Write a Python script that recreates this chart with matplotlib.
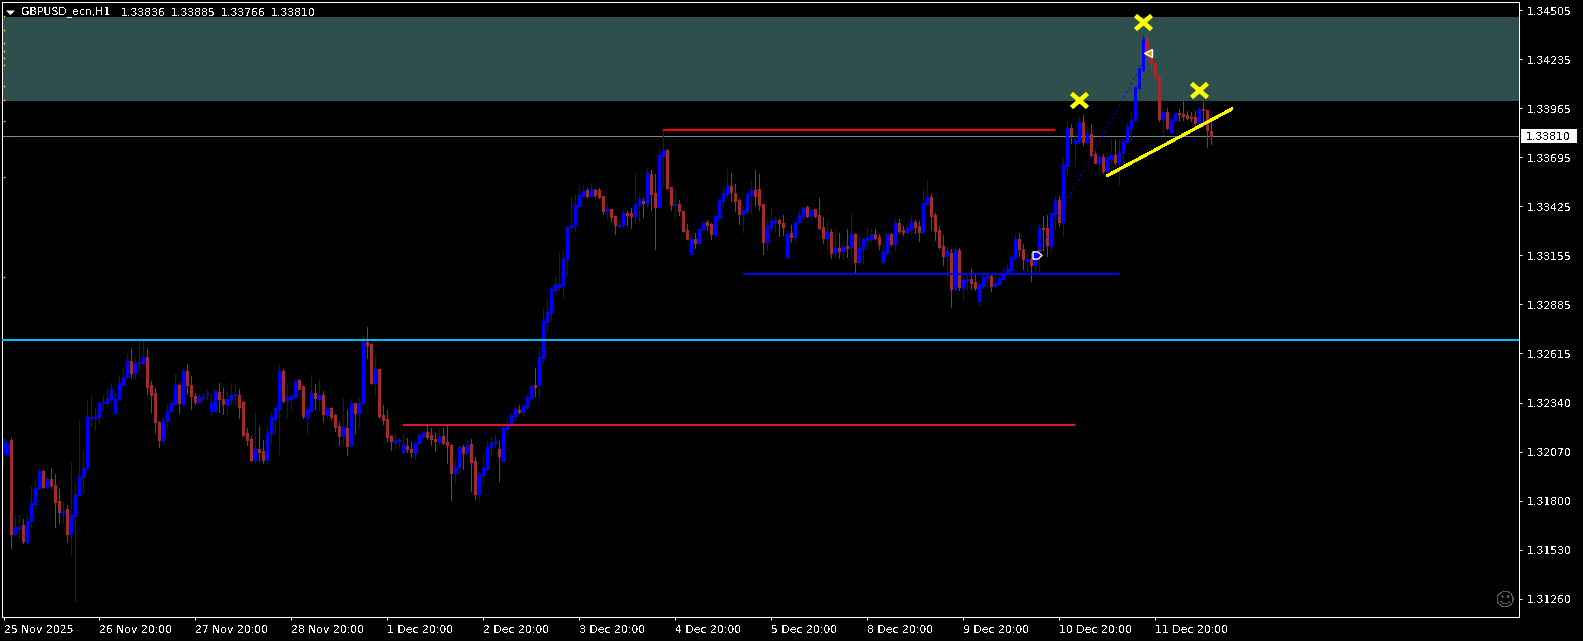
import numpy as np
import matplotlib
matplotlib.use('Agg')
import matplotlib.pyplot as plt
from matplotlib.markers import MarkerStyle
from matplotlib.patches import Rectangle, Polygon
from matplotlib.transforms import Affine2D

plt.rcParams['text.antialiased'] = False
plt.rcParams['text.hinting'] = 'native'

# bars are in points above 1.30000
opens_pts = [2054,2054,2131,1612,1651,1662,1568,1686,1778,1866,
    1960,1873,1916,1886,1794,1736,1750,1612,1712,1829,
    1929,1976,2258,2260,2260,2338,2335,2361,2282,2357,
    2438,2480,2566,2502,2557,2559,2588,2434,2390,2232,
    2133,2237,2293,2329,2434,2329,2511,2438,2377,2342,
    2364,2386,2293,2293,2399,2361,2326,2353,2383,2383,
    2340,2169,2136,2021,2081,2070,2021,2169,2250,2302,
    2511,2351,2359,2368,2462,2429,2252,2293,2394,2359,
    2379,2269,2307,2269,2208,2153,2197,2105,2335,2280,
    2335,2671,2660,2445,2524,2269,2247,2153,2120,2129,
    2065,2098,2085,2059,2114,2151,2175,2158,2140,2125,
    2153,2120,2103,1949,1982,2092,2059,2109,2015,1833,
    1938,1971,2092,2114,2081,2017,2192,2220,2264,2297,
    2286,2315,2363,2435,2435,2584,2782,2832,2959,2979,
    2986,3129,3305,3316,3423,3476,3509,3476,3509,3509,
    3476,3393,3404,3366,3314,3316,3382,3382,3366,3426,
    3452,3438,3597,3493,3415,3697,3730,3526,3432,3432,
    3393,3289,3156,3239,3217,3294,3333,3322,3265,3355,
    3449,3487,3531,3493,3454,3377,3393,3482,3509,3515,
    3432,3222,3305,3333,3344,3327,3140,3272,3250,3333,
    3366,3415,3366,3404,3371,3305,3245,3278,3162,3189,
    3173,3200,3195,3267,3112,3184,3234,3239,3267,3250,
    3112,3162,3267,3211,3327,3289,3278,3294,3333,3311,
    3278,3432,3471,3371,3289,3200,3145,3162,2963,3178,
    2969,3007,3018,3002,2897,2980,3024,3035,2980,2991,
    3018,3046,3068,3134,3239,3188,3122,3133,3096,3185,
    3300,3300,3203,3377,3455,3333,3642,3852,3771,3780,
    3885,3775,3819,3708,3662,3692,3615,3681,3703,3662,
    3714,3775,3852,3896,4072,4171,4342,4247,4210,4138,
    3901,3940,3830,3896,3934,3929,3923,3912,3912,3879,
    3956,3951,3836]
highs_pts = [2140,2130,2142,1721,1721,1695,1721,1879,1925,1971,
    1967,1923,1980,1947,1870,1796,1772,2013,1897,2239,
    2078,2351,2379,2311,2342,2379,2416,2449,2384,2486,
    2522,2605,2633,2587,2688,2688,2636,2458,2421,2237,
    2265,2324,2357,2495,2449,2522,2550,2486,2390,2384,
    2384,2408,2384,2416,2445,2421,2403,2449,2440,2412,
    2348,2201,2155,2280,2210,2133,2210,2280,2311,2544,
    2522,2445,2384,2462,2467,2430,2311,2489,2440,2467,
    2403,2316,2316,2274,2232,2362,2298,2357,2338,2366,
    2706,2754,2666,2599,2526,2324,2298,2158,2164,2146,
    2164,2146,2122,2127,2173,2182,2219,2201,2169,2201,
    2201,2219,2109,2026,2100,2103,2133,2136,2041,1956,
    2054,2127,2151,2158,2127,2225,2247,2274,2315,2326,
    2339,2385,2440,2529,2633,2854,2905,2973,3041,3163,
    3176,3313,3474,3482,3537,3533,3524,3548,3518,3520,
    3478,3441,3408,3368,3346,3404,3395,3414,3597,3491,
    3469,3634,3619,3597,3744,3846,3735,3529,3515,3456,
    3397,3322,3272,3272,3303,3335,3346,3327,3371,3460,
    3524,3625,3603,3542,3460,3423,3496,3561,3621,3597,
    3436,3340,3410,3368,3349,3371,3285,3316,3335,3395,
    3419,3423,3404,3408,3465,3364,3340,3298,3294,3272,
    3217,3294,3386,3276,3257,3248,3309,3294,3298,3267,
    3211,3272,3276,3349,3349,3313,3316,3371,3346,3340,
    3515,3564,3487,3382,3313,3261,3199,3184,3184,3193,
    3037,3052,3074,3046,3004,3041,3055,3046,3046,3046,
    3083,3101,3147,3267,3272,3212,3157,3166,3175,3322,
    3368,3372,3387,3479,3479,3690,3892,3874,3819,3916,
    3923,3865,3874,3727,3699,3708,3708,3795,3791,3795,
    3791,3879,3938,4081,4186,4361,4387,4260,4214,4140,
    3956,3962,3905,3938,3960,4001,3947,3942,3947,3966,
    3995,3953,3885]
lows_pts = [1980,2050,1535,1607,1603,1563,1567,1649,1760,1861,
    1868,1868,1870,1653,1673,1677,1570,1504,1245,1829,
    1842,1976,2210,2188,2228,2298,2320,2329,2280,2357,
    2430,2475,2476,2471,2531,2559,2384,2287,2173,2094,
    2118,2201,2283,2327,2280,2324,2384,2302,2329,2338,
    2348,2357,2269,2293,2287,2278,2274,2329,2324,2256,
    2155,2103,2017,2011,2017,2004,2008,2114,2164,2054,
    2342,2260,2293,2366,2412,2256,2164,2293,2302,2298,
    2237,2256,2247,2182,2105,2109,2050,2100,2169,2201,
    2329,2587,2440,2384,2256,2219,2127,2078,2081,2090,
    2063,2066,2041,2026,2109,2146,2140,2103,2072,2118,
    2109,2004,1800,1903,1943,1971,2054,1851,1806,1791,
    1897,1967,2044,2090,1907,2017,2164,2210,2242,2279,
    2266,2312,2354,2376,2370,2556,2734,2795,2935,2959,
    2915,3042,3285,3285,3419,3472,3472,3472,3474,3469,
    3377,3349,3340,3267,3309,3309,3316,3303,3331,3340,
    3364,3414,3399,3184,3414,3533,3515,3399,3353,3371,
    3279,3239,3156,3189,3215,3290,3290,3239,3261,3353,
    3417,3469,3450,3395,3322,3279,3386,3377,3423,3399,
    3156,3180,3285,3279,3257,3261,3138,3224,3217,3327,
    3349,3364,3358,3364,3294,3217,3184,3136,3147,3136,
    3132,3143,3147,3055,3110,3107,3184,3230,3239,3184,
    3110,3156,3206,3178,3276,3261,3270,3267,3276,3230,
    3272,3426,3289,3234,3188,3098,3009,2864,2960,2960,
    2903,2958,2963,2960,2877,2973,2973,2954,2973,2985,
    3015,3041,3064,3129,3147,3074,3065,3010,3047,3047,
    3185,3148,3175,3295,3313,3258,3593,3773,3644,3773,
    3758,3769,3699,3659,3626,3607,3611,3659,3653,3539,
    3662,3763,3791,3892,4067,4168,4241,4159,4126,3892,
    3813,3846,3828,3890,3894,3898,3901,3890,3876,3876,
    3874,3747,3766]
closes_pts = [2136,2118,1612,1651,1655,1576,1688,1787,1870,1964,
    1872,1916,1883,1791,1736,1739,1612,1721,1831,1927,
    1980,2258,2260,2261,2338,2344,2361,2412,2361,2445,
    2482,2566,2504,2559,2563,2588,2425,2379,2230,2133,
    2239,2294,2335,2434,2335,2511,2436,2373,2342,2372,
    2372,2394,2338,2403,2357,2329,2357,2383,2385,2316,
    2158,2133,2021,2085,2066,2021,2173,2258,2307,2511,
    2350,2368,2373,2458,2416,2263,2302,2390,2362,2379,
    2274,2307,2261,2202,2153,2202,2101,2335,2280,2335,
    2671,2655,2445,2522,2263,2241,2147,2125,2131,2131,
    2107,2081,2065,2118,2158,2169,2151,2136,2125,2151,
    2114,2103,1949,1986,2092,2059,2107,2010,1833,1943,
    1976,2096,2118,2125,2043,2197,2216,2269,2302,2286,
    2319,2370,2429,2426,2589,2788,2837,2964,2992,2992,
    3130,3309,3320,3427,3482,3507,3476,3518,3485,3472,
    3393,3404,3360,3316,3320,3382,3377,3366,3430,3460,
    3438,3603,3487,3415,3702,3730,3520,3426,3434,3393,
    3283,3243,3243,3217,3298,3331,3316,3267,3366,3454,
    3493,3531,3498,3449,3377,3399,3487,3509,3476,3426,
    3222,3311,3338,3344,3327,3305,3267,3250,3333,3371,
    3410,3366,3399,3366,3300,3245,3278,3162,3189,3173,
    3200,3189,3267,3112,3189,3239,3245,3267,3245,3211,
    3173,3267,3211,3327,3283,3278,3300,3333,3305,3278,
    3438,3471,3366,3283,3195,3145,3173,2963,3178,2974,
    3013,3018,2996,2969,2991,3029,3035,2980,2996,3024,
    3052,3074,3140,3239,3184,3129,3129,3096,3129,3300,
    3295,3207,3383,3455,3333,3648,3852,3813,3786,3885,
    3775,3819,3703,3662,3692,3615,3692,3703,3664,3718,
    3780,3857,3896,4078,4182,4342,4247,4205,4133,3901,
    3940,3852,3901,3934,3929,3918,3907,3909,3879,3956,
    3953,3841,3810]

price_ticks = [1.34505, 1.34235, 1.33965, 1.33695, 1.33425, 1.33155, 1.32885,
               1.32615, 1.32340, 1.32070, 1.31800, 1.31530, 1.31260]
time_labels = ['25 Nov 2025', '26 Nov 20:00', '27 Nov 20:00', '28 Nov 20:00',
               '1 Dec 20:00', '2 Dec 20:00', '3 Dec 20:00', '4 Dec 20:00',
               '5 Dec 20:00', '8 Dec 20:00', '9 Dec 20:00', '10 Dec 20:00', '11 Dec 20:00']
header_name = 'GBPUSD_ecn,H1'
header_ohlc = ['1.33836', '1.33885', '1.33766', '1.33810']

zone = [1.34006, 1.34469]
last_price = 1.33810
cyan_level = 1.32688
red_level = [165, 263, 1.33846]
crimson_level = [100, 268, 1.32219]
blue_level = [185, 279, 1.33052]
trend_x = [276, 307]
trend_y = [1.33594, 1.33960]
cross_x = [268.9, 284.8, 298.9]
cross_y = [1.34008, 1.34438, 1.34067]
trade_x = [258.3, 286.2]
trade_y = [1.33155, 1.34269]
edge_dots = [1.34475, 1.34397, 1.34326, 1.34282, 1.34243, 1.34204, 1.34089,
             1.34011, 1.33896, 1.33587, 1.33036]

W, H = 1583, 641
BLUE = '#0000ff'
BROWN = '#a52a2a'
px = 0.72  # one screen pixel in points at dpi 100

opens = 1.30 + np.array(opens_pts) / 1e5
highs = 1.30 + np.array(highs_pts) / 1e5
lows = 1.30 + np.array(lows_pts) / 1e5
closes = 1.30 + np.array(closes_pts) / 1e5
bars = np.arange(len(opens))
up = closes >= opens
colors = [BLUE if u else BROWN for u in up]

fig = plt.figure(figsize=(W / 100, H / 100), dpi=100, facecolor='black')
# box sits 0.2 px off the pixel centre so agg snaps the frame to the right column,
# xlim keeps the bars on exact pixel centres
ax = fig.add_axes([2.3 / W, 1 - 617.3 / H, 1517 / W, 615 / H])
ax.set_facecolor('black')
ax.set_xlim(-0.3, 378.95)
ax.set_ylim(1.31158, 1.34549)

ax.axhspan(zone[0], zone[1], color='#2f4f4f', lw=0, zorder=0)
ax.axhline(last_price, color='#778899', lw=1 * px, zorder=1)

ax.vlines(bars, lows, highs, colors=colors, lw=0.9 * px, antialiased=False, snap=False, zorder=2)
tops = np.maximum(opens, closes)
bottoms = np.minimum(opens, closes)
bottoms = np.where(tops - bottoms < 0.00006, tops - 0.00006, bottoms)
ax.vlines(bars, bottoms, tops, colors=colors, lw=2.9 * px, antialiased=False, snap=False,
          capstyle='butt', zorder=2)

ax.axhline(cyan_level, color='#00bfff', lw=2 * px, zorder=3)
ax.hlines(red_level[2], red_level[0], red_level[1], color='#ff0000', lw=2 * px, zorder=3)
ax.hlines(crimson_level[2], crimson_level[0], crimson_level[1], color='#dc143c', lw=2 * px, zorder=3)
ax.hlines(blue_level[2], blue_level[0], blue_level[1], color=BLUE, lw=2 * px, zorder=3)
ax.plot(trend_x, trend_y, color='#ffff00', lw=2 * px, antialiased=False, zorder=4)

# the closed trade: dotted link and its two arrows
ax.plot(trade_x, trade_y, color=BLUE, lw=1 * px, ls=(0, (2, 3)), zorder=3)
ax.hlines(trade_y[0] + 0.0003, trade_x[0], trade_x[0] + 1.7, color='#ff0000', lw=1 * px, zorder=4)
arrow = [(-1, -0.8), (0.1, -0.8), (1, 0), (0.1, 0.8), (-1, 0.8), (-1, -0.8)]
ax.plot(trade_x[0], trade_y[0], marker=arrow, ms=6.5, mfc=BLUE, mec='white', mew=1, zorder=5)
ax.plot(trade_x[1], trade_y[1], marker='<', ms=6, mfc='#daa520', mec='white', mew=1, zorder=5)

cross = MarkerStyle('x', transform=Affine2D().scale(1.15, 1))
ax.plot(cross_x, cross_y, ls='', marker=cross, ms=10, mec='#ffff00', mew=3.3, zorder=6)
ax.plot(np.zeros(len(edge_dots)), edge_dots, ls='', marker='s', ms=1.0, mfc='#ffff00', mec='none', zorder=6)

for s in ax.spines.values():
    s.set_color('white')
    s.set_linewidth(1 * px)

ax.yaxis.tick_right()
ax.set_yticks(price_ticks)
ax.set_yticklabels(['%.5f' % p for p in price_ticks])
ax.set_xticks(np.arange(len(time_labels)) * 24)
ax.set_xticklabels(time_labels, ha='left')
ax.tick_params(axis='both', colors='white', labelcolor='white', length=3 * px, width=1 * px, labelsize=7.85)
ax.tick_params(axis='y', pad=3)
ax.tick_params(axis='x', pad=3)

# chart header
fig.add_artist(Polygon([(6 / W, 1 - 10.5 / H), (15 / W, 1 - 10.5 / H), (10.5 / W, 1 - 15 / H)],
                       transform=fig.transFigure, facecolor='white', edgecolor='none'))
fig.text(21.5 / W, 1 - 12.5 / H, header_name, color='white', fontsize=7.85, ha='left', va='center')
for k, txt in enumerate(header_ohlc):
    fig.text((120.5 + 50 * k) / W, 1 - 12.5 / H, txt, color='white', fontsize=7.85, ha='left', va='center')

# current price tag
fig.add_artist(Rectangle((1521 / W, 1 - 142.7 / H), 55.7 / W, 13.4 / H, transform=fig.transFigure,
                         facecolor='white', edgecolor='none'))
fig.text(1526 / W, 1 - 136.3 / H, '%.5f' % last_price, color='black', fontsize=7.85, ha='left', va='center')

fig.text(1505.7 / W, 1 - 600.7 / H, '\u263a', color='#5a5a5a', fontsize=14, ha='center', va='center')

fig.savefig('out.png', dpi=100, facecolor='black')
